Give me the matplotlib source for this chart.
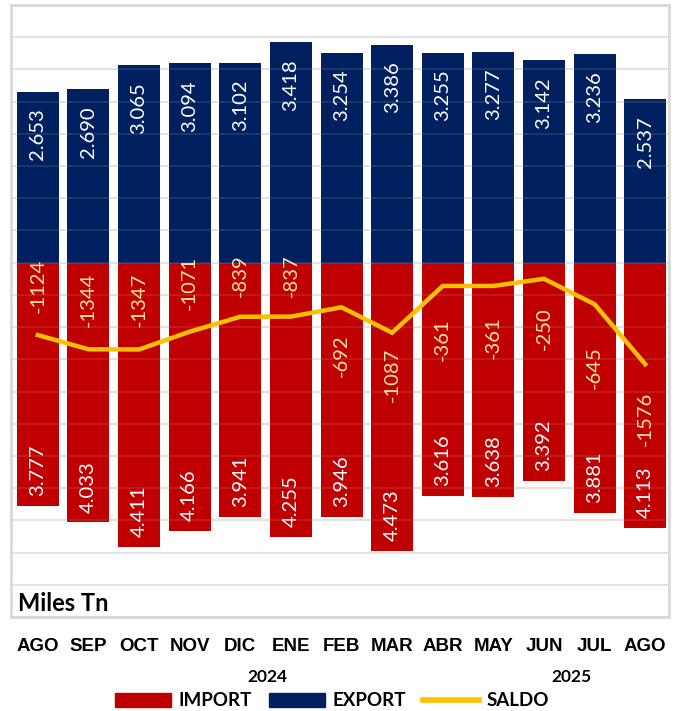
import matplotlib.pyplot as plt
from matplotlib.patches import Patch
from matplotlib.lines import Line2D
import matplotlib.transforms as mtransforms

plt.rcParams['font.family'] = ['Lato', 'DejaVu Sans']

# datos (miles de toneladas)
meses = ["AGO", "SEP", "OCT", "NOV", "DIC", "ENE", "FEB", "MAR", "ABR", "MAY", "JUN", "JUL", "AGO"]
export = [2653, 2690, 3065, 3094, 3102, 3418, 3254, 3386, 3255, 3277, 3142, 3236, 2537]
imports = [3777, 4033, 4411, 4166, 3941, 4255, 3946, 4473, 3616, 3638, 3392, 3881, 4113]
saldo = [-1124, -1344, -1347, -1071, -839, -837, -692, -1087, -361, -361, -250, -645, -1576]
anios = ["2024", "2025"]

# desplazamiento de etiquetas del saldo (px, + arriba / - abajo)
saldo_off = [22, 22, 22, 22, 20, 20, -27, -15, -32, -30, -28, -42, -28]

ROJO = "#C00000"
AZUL = "#002060"
AMAR = "#FFC000"

def fmt(v):
    return f"{v:,}".replace(",", ".")

fig = plt.figure(figsize=(6.8, 7.11), dpi=100)
ax = fig.add_axes([11 / 680, 1 - 617 / 711, 658 / 680, 612 / 711])

x = list(range(len(meses)))
ax.bar(x, export, width=0.83, color=AZUL, zorder=2)
ax.bar(x, [-v for v in imports], width=0.83, color=ROJO, zorder=2)
ax.plot(x, saldo, color=AMAR, lw=3.2, zorder=4, solid_joinstyle="miter")

for i in x:
    ax.annotate(fmt(export[i]), (i, export[i]), xytext=(0, -12), textcoords="offset points",
                rotation=90, ha="center", va="top", color="white", fontsize=14.5, zorder=5)
    ax.annotate(fmt(imports[i]), (i, -imports[i]), xytext=(0, 7), textcoords="offset points",
                rotation=90, ha="center", va="bottom", color="white", fontsize=14.5, zorder=5)
    off = saldo_off[i] * 0.72
    ax.annotate(str(saldo[i]), (i, saldo[i]), xytext=(0, off), textcoords="offset points",
                rotation=90, ha="center", va="bottom" if off > 0 else "top",
                color="#FFE699", fontsize=14.5, zorder=5)

ax.set_xlim(-0.53, 12.47)
ax.set_ylim(-5500, 4000)
gy = range(-5500, 4001, 500)
for g in gy:
    ax.axhline(g, color="#e6e6e6", lw=1.6, zorder=1)
    ax.axhline(g, color="#d0d0d0", lw=1.2, alpha=0.15, zorder=3)
ax.set_yticks([])

ax.set_xticks(x)
ax.set_xticklabels(meses, fontsize=13.5, fontweight="bold", family=["Liberation Sans", "DejaVu Sans"])
ax.tick_params(axis="x", length=0, pad=15)

for s in ax.spines.values():
    s.set_color("#d9d9d9")
    s.set_linewidth(2)

ax.text(0.01, 0.003, "Miles Tn", transform=ax.transAxes, fontsize=17, fontweight="bold",
        ha="left", va="bottom")

trans = mtransforms.blended_transform_factory(ax.transData, ax.transAxes)
for xp, a in zip([4.53, 10.55], anios):
    ax.text(xp, -0.098, a, transform=trans, ha="center", va="center", fontsize=12.5, fontweight="bold")

handles = [Patch(color=ROJO, label="IMPORT"), Patch(color=AZUL, label="EXPORT"),
           Line2D([0], [0], color=AMAR, lw=4, label="SALDO")]
leg = fig.legend(handles=handles, loc="center", bbox_to_anchor=(332 / 680, 1 - 701 / 711), ncol=3,
                 frameon=False, fontsize=13.5, handlelength=3.0, handletextpad=0.4, columnspacing=0.9)
for t in leg.get_texts():
    t.set_fontweight("bold")

fig.savefig("out.png", dpi=100)
